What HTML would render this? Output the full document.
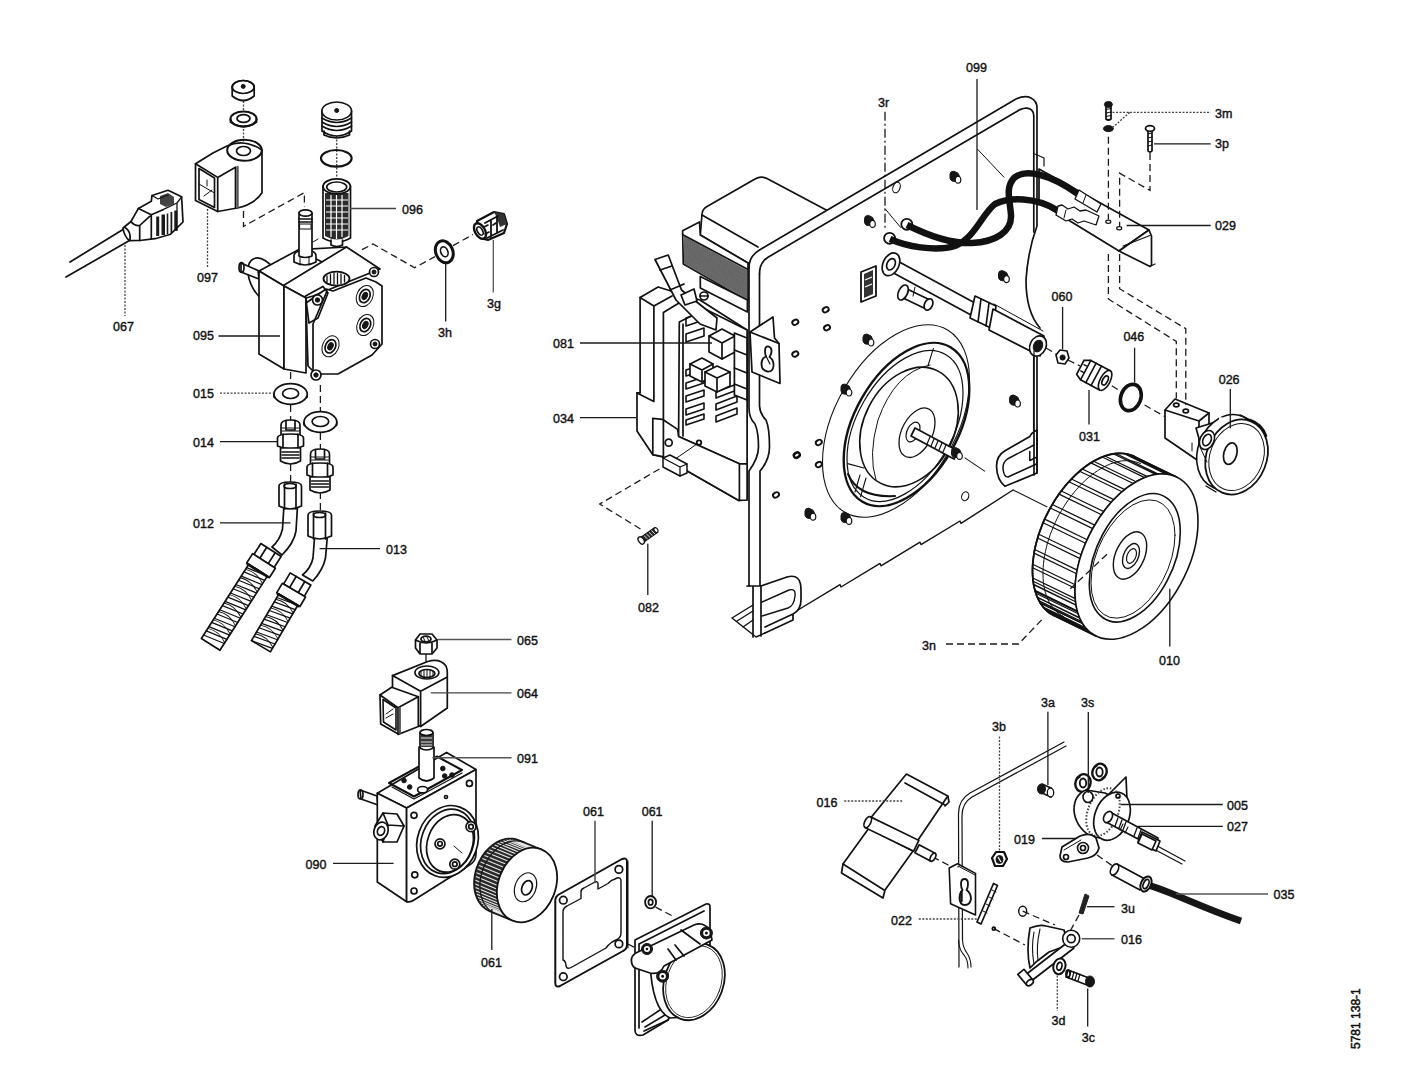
<!DOCTYPE html>
<html><head><meta charset="utf-8"><title>Parts diagram</title>
<style>
html,body{margin:0;padding:0;background:#fff;}
body{width:1410px;height:1086px;overflow:hidden;}
svg{display:block;}
.s{fill:none;stroke:#111;stroke-width:1.7;stroke-linejoin:round;stroke-linecap:round;}
.w{fill:#fff;stroke:#111;stroke-width:1.7;stroke-linejoin:round;stroke-linecap:round;}
.k{fill:#161616;stroke:#161616;stroke-width:1;}
.th{fill:none;stroke:#111;stroke-width:1.0;stroke-linecap:round;}
.l{fill:none;stroke:#1a1a1a;stroke-width:1.3;}
.d{fill:none;stroke:#1a1a1a;stroke-width:1.3;stroke-dasharray:7 4;}
.dt{fill:none;stroke:#444;stroke-width:1.3;stroke-dasharray:2 1.5;}
text{stroke:#111;stroke-width:0.4;font-family:"Liberation Sans",sans-serif;font-size:12.5px;fill:#111;}
</style></head><body>
<svg width="1410" height="1086" viewBox="0 0 1410 1086">
<rect width="1410" height="1086" fill="#fff"/>
<!-- 10_asm.svg -->
<g>
<!-- assembly dashed lines -->
<path class="d" d="M243.5,211V226.4L304.4,192.6V207"/>
<path class="dt" d="M243.5,101V145"/>
<path class="dt" d="M336.7,136V178M336.7,246V268"/>
<path class="d" d="M362,249.7L373,244L414.6,267.7L435,256.6M453,245.6L473,234.5"/>
<path class="d" d="M290.6,372V385M290.6,405V420M290.6,464V482"/>
<path class="d" d="M320.4,385V411M320.4,433V449M320.4,492V510"/>
<path class="d" d="M535.5,891.3L553.3,901.2M571.2,911.1L614.9,937M627.8,944L640,950M655.6,907.2L674.5,917"/>
<path class="d" d="M659.4,469L599.7,504L642.8,530.4"/>


<path class="d" d="M1144.6,405L1164.7,416.5M1111.8,385.8L1120,391M1068,360L1080,366M1046,348L1058,355"/>

<path class="d" d="M932.6,856.8L950,866M1079,915L1068,935M1022.7,911.2L1055,925M993.8,928.7L1025,945M1097,855L1114,867"/>
</g>

<!-- 20_leftgroup.svg -->
<g id="cable067">
<path class="s" d="M70,262L123,229.5M66,277L129,240.8"/>
<path class="w" d="M123,228Q128,224 131,221.5L138.4,208.4L151.3,201.3L152,195.5L168,190.3L181.6,196.8L183,222L170.6,234.2L155.1,238.7L139.7,240.5L129.3,240.6Q124,236 123,228Z"/>
<path class="s" d="M138.4,208.4L151.3,214.8L163,209.7M151.3,214.8V238.7M131,221.5Q134,226 139.7,225.5L151.3,214.8M139.7,225.5V240.5M125,227.5Q131,231 130,240"/>
<path d="M156.2,216.5H159.2V236H156.2ZM161.5,214.5H165V235H161.5ZM166.7,213.5H168.3V234H166.7ZM170.5,212H172.3V233H170.5ZM174.3,210.5H177.3V231H174.3Z" fill="#1a1a1a"/>
<path d="M160,196L168,193L174,197L174,204L166,207L160,204Z" fill="#444"/>
<path class="s" d="M152,195.5L158,199L168,195M163,209.7L177,203L181.6,196.8M177,203V230" style="stroke-width:1.3"/>
</g>
<g id="coil097">
<ellipse class="w" cx="243.2" cy="87" rx="11" ry="6.5"/>
<path class="w" d="M232.2,87V96Q243.2,105 254.2,96V87"/>
<ellipse class="s" cx="243.2" cy="87" rx="11" ry="6.5"/>
<circle class="k" cx="243.2" cy="86.4" r="2"/>
<ellipse class="w" cx="243.5" cy="119" rx="13" ry="7.5" style="stroke-width:2"/>
<path class="s" d="M230.5,119V122Q243.5,131 256.5,122V119" style="stroke-width:1.8"/>
<ellipse class="s" cx="243.5" cy="118.5" rx="6.5" ry="3.8" style="stroke-width:1.8"/>
<path class="w" d="M195.5,163.8L213.4,152.8L227,146Q244,138 262,150V192.8Q255,204 237.2,208L217.7,211.5L195.5,200.4Z"/>
<path class="s" d="M195.5,163.8L217.7,177.4V211.5M217.7,177.4L235.5,167.2V208"/>
<ellipse class="s" cx="244.5" cy="150.2" rx="17.3" ry="10.5" style="stroke-width:2"/>
<ellipse class="s" cx="243.5" cy="151" rx="7" ry="4.5"/>
<path class="s" d="M199,168.5L214.5,178V207.5L199,199.5Z"/>
<path class="th" d="M199,184L214.5,193M207,180V186M204,196L212,190"/>
<path class="s" d="M237.5,167V208" style="stroke-width:2.4;stroke:#555"/>
</g>
<g id="pump095">
<!-- shaft and hub on left -->
<ellipse class="w" cx="265" cy="281" rx="14" ry="25" transform="rotate(-28 265 281)"/>
<path class="w" d="M241,263L258,270.5L259,279L241,272Z"/>
<ellipse class="s" cx="241.5" cy="267.5" rx="2.5" ry="4.8"/>
<!-- top face -->
<path class="w" d="M259,271L298.5,249.7L346.5,247L380,269L313,296L306,298L284,286Z"/>
<!-- side faces -->
<path class="s" d="M282.6,285.9L346.4,247M298.5,249.7L322,262"/>
<path class="w" d="M259,271L284,286V369L259,354Z"/>
<path class="w" d="M284,286L306,298V373L284,369Z"/>
<!-- front plate -->
<path class="w" d="M306,303L326,289L333,291L366,278L376,282L382,286V344L372,355L338,374H316L308,366Z"/>
<path class="s" d="M313,324V374M327,291L313,324"/>
<!-- ear bolts -->
<path class="s" d="M305.5,296L323,286.5L328,293L318,318L309,323Z"/>
<circle class="w" cx="317.5" cy="300" r="5"/><circle class="k" cx="317.5" cy="300" r="2.2"/>
<circle class="w" cx="374" cy="272" r="4.5"/><circle class="k" cx="374" cy="272" r="2"/>
<circle class="w" cx="375" cy="344" r="4.5"/><circle class="k" cx="375" cy="344" r="2"/>
<circle class="w" cx="316" cy="375" r="5"/><circle class="k" cx="316" cy="375" r="2.2"/>
<!-- ports -->
<g transform="translate(364.8,296) rotate(25)"><ellipse class="s" rx="8" ry="11" style="stroke-width:1"/><ellipse class="s" rx="5" ry="7"/><ellipse class="k" rx="2.5" ry="3.8"/></g>
<g transform="translate(365.3,325) rotate(25)"><ellipse class="s" rx="8" ry="11" style="stroke-width:1"/><ellipse class="s" rx="5" ry="7"/><ellipse class="k" rx="2.5" ry="3.8"/></g>
<g transform="translate(330.5,346.3) rotate(25)"><ellipse class="s" rx="8" ry="11" style="stroke-width:1"/><ellipse class="s" rx="5" ry="7"/><ellipse class="k" rx="2.5" ry="3.8"/></g>
<!-- top port -->
<ellipse class="w" cx="336.5" cy="278.7" rx="13" ry="7" style="stroke-width:1.8"/>
<path class="th" d="M327,276V282M330.5,274.5V283.5M334,273.5V284M337.5,273.5V284M341,274V283.5M344.5,275.5V282" style="stroke-width:1.3"/>
<!-- solenoid stem -->
<path class="w" d="M294,256Q294,252 300,251H311Q316,252 316,256V262Q305,268 294,262Z"/>
<path class="th" d="M300,252V265M309,252V265"/>
<path class="w" d="M299,213V256Q305,259 312,256V213Z"/>
<ellipse class="w" cx="305.5" cy="213" rx="6.5" ry="3.2"/>
<path class="s" d="M299,219H312M299,222H312"/>
<path class="s" d="M300,224H311V229H300Z" style="stroke-width:1"/>
<path class="th" d="M313,242L318,239"/>
</g>

<!-- 21_leftgroup2.svg -->
<g id="filter096">
<path class="w" d="M322,111V131Q336.7,141 351.5,131V111"/>
<ellipse class="w" cx="336.7" cy="111" rx="14.8" ry="9"/>
<path class="s" d="M322,118Q336.7,127 351.5,118M322,122Q336.7,131 351.5,122M322,126Q336.7,135 351.5,126"/>
<path class="s" d="M324,131V135Q336.7,141 349.5,135V131"/>
<circle class="k" cx="336.7" cy="110.5" r="2"/>
<ellipse class="s" cx="336.3" cy="158.3" rx="15.3" ry="8.3" style="stroke-width:2.2"/>
<path class="w" d="M323,186V238Q336.7,246 350.5,238V186"/>
<path fill="#2b2b2b" d="M325,193H348.5V236Q336.7,243 325,236Z"/>
<path stroke="#fff" stroke-width="1.2" fill="none" d="M331,195V237M336.5,195V239M342,195V237M326,200H348M326,206H348M326,212H348M326,218H348M326,224H348M326,230H348"/>
<ellipse class="w" cx="336.7" cy="186.4" rx="13.6" ry="7.5" style="stroke-width:1.8"/>
<ellipse class="s" cx="336.7" cy="187" rx="10" ry="5"/>
<path class="w" d="M331,240V245Q336.7,248 342.5,245V240"/>
</g>
<g id="washer3h" transform="translate(444.3,251.8) rotate(-22)">
<ellipse class="w" rx="8.5" ry="11.3" style="stroke-width:3"/>
<ellipse class="s" rx="3.5" ry="5.2" style="stroke-width:1.6"/>
</g>
<g id="fit3g">
<path class="w" d="M477,221L494,212L504,214L507,224L504,233L488,240L480,238Z" style="stroke-width:2.2"/>
<path d="M494,212L504,214L507,224L500,227L497,218Z" fill="#333"/>
<g transform="translate(480,231) rotate(-30)"><ellipse class="w" rx="5" ry="8.5" style="stroke-width:2.4"/><ellipse class="s" rx="2.5" ry="4.5" style="stroke-width:1.6"/></g>
<path class="s" d="M485,223L498,216M487,238L503,230M491,221V237M497,218V233" style="stroke-width:1.8"/>
<path class="th" d="M484,227L488,225M485,234L489,232M493,225L496,223" style="stroke-width:1.6"/>
</g>
<g id="washers015">
<path class="w" d="M274,394V397Q290.6,410 307.2,397V394"/>
<ellipse class="w" cx="290.6" cy="394" rx="16.6" ry="10.3"/>
<ellipse class="s" cx="290.6" cy="393.5" rx="8" ry="5"/>
<path class="w" d="M304,422V425Q320.4,438 336.8,425V422"/>
<ellipse class="w" cx="320.4" cy="422" rx="16.4" ry="10.3"/>
<ellipse class="s" cx="320.4" cy="421.5" rx="8.3" ry="5"/>
</g>
<g id="fit014">
<path class="w" d="M281,425Q281,420 290.5,420Q300,420 300,425V436H281Z"/>
<path class="w" d="M277.5,438Q277.5,434 290.5,434Q303.5,434 303.5,438V446Q290.5,452 277.5,446Z"/>
<path class="s" d="M283,434V449M298,434V449" />
<path class="w" d="M280.5,448H300.5V461Q290.5,467 280.5,461Z"/>
<path class="th" d="M282,452H299M282,455H299M282,458H299" style="stroke-width:1.3"/>
<path class="s" d="M286,421V430H295V421"/>
<path class="th" d="M282,428H299M282,431H299"/>
</g>
<g id="fit014b" transform="translate(29.5,29)">
<path class="w" d="M281,425Q281,420 290.5,420Q300,420 300,425V436H281Z"/>
<path class="w" d="M277.5,438Q277.5,434 290.5,434Q303.5,434 303.5,438V446Q290.5,452 277.5,446Z"/>
<path class="s" d="M283,434V449M298,434V449" />
<path class="w" d="M280.5,448H300.5V461Q290.5,467 280.5,461Z"/>
<path class="th" d="M282,452H299M282,455H299M282,458H299" style="stroke-width:1.3"/>
<path class="s" d="M286,421V430H295V421"/>
<path class="th" d="M282,428H299M282,431H299"/>
</g>
<g id="hose012">
<path class="w" d="M283.8,508L282.5,529Q280,540 272,547L282,555Q294,543 296,531L297.4,508Z"/>
<g transform="translate(271,550) rotate(32.6)">
<path class="w" d="M-12,0H12V13H-12Z"/>
<path class="s" d="M-5,0V13M5,0V13"/>
<path class="w" d="M-13.5,13H13.5V24H-13.5Z"/>
<path class="w" d="M-11,24H11V112H-11Z"/>
<path class="s" d="M-12,24.5H12" style="stroke-width:2.4"/>
<path class="th" d="M-11,28L11,24M-11,33L11,29M-11,38L11,34M-11,43L11,39M-11,48L11,44M-11,53L11,49M-11,58L11,54M-11,63L11,59M-11,68L11,64M-11,73L11,69M-11,78L11,74M-11,83L11,79M-11,88L11,84M-11,93L11,89M-11,98L11,94M-11,103L11,99M-11,108L11,104" style="stroke-width:1.2"/>
<path class="th" d="M-11,30Q0,26 11,33M-11,40Q0,36 11,43M-11,50Q0,46 11,53M-11,60Q0,56 11,63M-11,70Q0,66 11,73M-11,80Q0,76 11,83M-11,90Q0,86 11,93M-11,100Q0,96 11,103" style="stroke-width:0.9"/>
</g>
<path class="w" d="M279,486Q279,482 290,482Q301.5,482 301.5,486V506Q290,512 279,506Z"/>
<path class="s" d="M284.5,484V509M296,484V509"/>
<ellipse class="s" cx="290" cy="486" rx="6" ry="2.5"/>
</g>
<g id="hose013">
<path class="w" d="M314.5,538L313,558Q311,568 302.5,575L312.8,581Q323,570 325.5,558L327.2,538Z"/>
<g transform="translate(300.5,579) rotate(30.5)">
<path class="w" d="M-12,0H12V13H-12Z"/>
<path class="s" d="M-5,0V13M5,0V13"/>
<path class="w" d="M-13.5,13H13.5V24H-13.5Z"/>
<path class="w" d="M-11,24H11V78H-11Z"/>
<path class="s" d="M-12,24.5H12" style="stroke-width:2.4"/>
<path class="th" d="M-11,28L11,24M-11,33L11,29M-11,38L11,34M-11,43L11,39M-11,48L11,44M-11,53L11,49M-11,58L11,54M-11,63L11,59M-11,68L11,64M-11,73L11,69M-11,78L11,74" style="stroke-width:1.2"/>
<path class="th" d="M-11,30Q0,26 11,33M-11,40Q0,36 11,43M-11,50Q0,46 11,53M-11,60Q0,56 11,63M-11,70Q0,66 11,73" style="stroke-width:0.9"/>
</g>
<path class="w" d="M308,515Q308,511 319.5,511Q331.5,511 331.5,515V536Q319.5,542 308,536Z"/>
<path class="s" d="M313.5,513V539M325.5,513V539"/>
<ellipse class="s" cx="319.5" cy="515" rx="6" ry="2.5"/>
</g>

<!-- 30_midgroup.svg -->
<g id="nut065">
<path class="w" d="M415.5,640L420,634H432L437,640V648L432,654H420L415.5,648Z"/>
<path class="s" d="M415.5,640Q426,646 437,640M420,643V653M432,643V653"/>
<ellipse class="s" cx="426" cy="639" rx="5" ry="2.8" style="stroke-width:1.8"/>
<path class="th" d="M423,637L425,641M427,637L429,641"/>
</g>
<path class="l" d="M426,654V666"/>
<g id="coil064">
<path class="w" d="M392.5,675.6L427.7,661.5Q440,658 446,666Q447.3,669 447.3,672V708L420.6,726.5L392.5,712Z"/>
<path class="s" d="M392.5,675.6L420.6,691.3L447.3,677M420.6,691.3V726.5"/>
<ellipse class="s" cx="426.9" cy="672.5" rx="12" ry="6.5" style="stroke-width:1.6"/>
<ellipse class="s" cx="426.9" cy="673.5" rx="8" ry="4"/>
<path class="th" d="M421,671V676M424,670V677M427,670V677M430,670V677M433,671V676"/>
<path class="w" d="M380,695L391.7,687.3L418.3,696.7V726.5L398.7,734.3L380.7,724Z"/>
<path class="s" d="M380,695L398,707.7L418.3,696.7M398,707.7V734.3"/>
<path class="s" d="M383,699.5L396,708V730L383.5,722Z" style="stroke-width:1.6"/>
<path class="th" d="M386,714L393,709M386,718L393,714"/>
<path class="s" d="M399.8,708V733" style="stroke-width:2.2;stroke:#555"/>
</g>

<g id="pump090">
<path class="w" d="M360,790L377,796L378,805L361,799Z"/>
<ellipse class="s" cx="360.5" cy="794.5" rx="2.5" ry="4.5"/>
<path class="w" d="M377.3,793.2L446.6,752.4L476,769.6L406.6,807.9Z"/>
<path class="w" d="M377.3,793.2L406.6,807.9V901.7L377.3,882Z"/>
<path class="w" d="M406.6,807.9L476,769.6V854Q476,862 468,866L414,900Q410.7,902.5 406.6,901.7Z"/>
<path class="s" d="M389,783L437,756.5L462,770L414,796.5Z" style="stroke-width:2"/><path class="s" d="M392,787L414,799L462,773" style="stroke-width:1.2"/><circle class="k" cx="404" cy="780.5" r="2.3"/><circle class="k" cx="409.7" cy="787" r="2.3"/><ellipse class="w" cx="422.6" cy="789.7" rx="5" ry="3.2"/><circle class="k" cx="442.8" cy="768.5" r="2.3"/><circle class="k" cx="444.7" cy="776" r="2.3"/><circle class="k" cx="452" cy="775" r="2.3"/>
<circle class="s" cx="446" cy="797" r="1.5"/>
<path class="w" d="M375,826L383,813L397,814L404,826L397,842L383,842Z"/>
<path class="s" d="M383,813L388,825L404,826M388,825L383,842"/>
<g transform="translate(381,831) rotate(20)"><ellipse class="w" rx="7" ry="9"/><ellipse class="s" rx="3.5" ry="4.5"/></g>
<g transform="translate(447.5,841.4) rotate(20)"><ellipse class="w" rx="30" ry="36.5"/><ellipse class="s" rx="26" ry="33"/><ellipse class="w" rx="22.5" ry="29.5" transform="translate(3,1)"/></g>
<circle class="w" cx="471" cy="826.7" r="5"/><circle class="s" cx="471" cy="826.7" r="2.3"/>
<circle class="w" cx="440" cy="843.8" r="5"/><circle class="s" cx="440" cy="843.8" r="2.3"/>
<circle class="w" cx="454.8" cy="864.2" r="5"/><circle class="s" cx="454.8" cy="864.2" r="2.3"/>
<path class="th" d="M454,846L462,853"/>
<circle class="s" cx="414" cy="815.3" r="3"/>
<circle class="s" cx="469.4" cy="783.4" r="3"/>
<circle class="s" cx="414.8" cy="874.8" r="3"/>
<circle class="s" cx="414" cy="891" r="3"/>
</g>
<g id="pin091">
<path class="w" d="M419,747V778Q426.5,784 434,778V747Z"/>
<path class="w" d="M420,733V748Q426.5,752 433,748V733Z" fill="#444"/>
<path fill="#3a3a3a" d="M420,735H433V747H420Z"/>
<path stroke="#ddd" stroke-width="1" d="M421,738H432M421,742H432M421,745H432"/>
<ellipse class="w" cx="426.5" cy="732.5" rx="6.5" ry="3"/>
</g>
<g id="gasket061">
<path class="w" d="M558,895L622,859Q627,857 627,862V945Q627,949 623,951L560,986Q555.3,988 555.3,983V900Q555.3,897 558,895Z" style="stroke-width:2"/>
<path class="s" d="M628,861V948" style="stroke-width:1"/>
<path class="s" d="M567,906L581,898.5V892Q581,889 584,888L595,882Q598,881 598,884V889L608,883.5Q611,880 615,879L617,878Q621,877 621,881V933Q621,938 616,940L612,942Q608,945 606,948L572,967Q567,970 566,966Q566,961 563,960V912Q563,908 567,906Z" style="stroke-width:1.4"/>
<circle class="w" cx="563.3" cy="900.2" r="3.8"/>
<circle class="w" cx="618.9" cy="869.4" r="3.8"/>
<circle class="w" cx="618.9" cy="943.9" r="3.8"/>
<circle class="w" cx="563.3" cy="976.7" r="3.8"/>
</g>
<g id="washer061"><ellipse class="w" cx="650.6" cy="902.2" rx="5.5" ry="6.2" style="stroke-width:1.8"/><ellipse class="s" cx="650.6" cy="902.2" rx="2.2" ry="2.8"/></g>
<g id="cover">
<path class="w" d="M635,940L706,904Q710,903 710,907V945L668,1020L643,1035Q635,1037 635,1030Z"/>
<path class="s" d="M639,944V1028M639,944L704,911M668,1020L644,1031"/>
<path class="w" d="M650,962Q652,1010 670,1018L700,1016L700,945L668,955Z"/>
<g transform="translate(694,981.7) rotate(20)"><ellipse class="w" rx="29.5" ry="39.5" style="stroke-width:1.8"/><ellipse class="s" rx="27" ry="37" style="stroke-width:0.8"/></g>
<path class="w" d="M632,964Q629,955 640,951L694,925Q703,921 710,930L712,940L664,966Q660,975 650,973L638,969Q633,968 632,964Z"/>
<path class="s" d="M675,945L684,956M668,949L676,960M681,930L700,944"/>
<circle class="k" cx="647" cy="949" r="5.5"/><circle class="s" cx="647" cy="949" r="2.2" style="stroke:#fff"/>
<circle class="k" cx="706.4" cy="933" r="6"/><circle class="s" cx="706.4" cy="933" r="2.4" style="stroke:#fff"/>
<circle class="k" cx="662.6" cy="976.2" r="6"/><circle class="s" cx="662.6" cy="976.2" r="2.4" style="stroke:#fff"/>
<path class="s" d="M642,1022L660,1010M645,1027L665,1015" style="stroke-width:1.6"/>
</g>

<!-- 31_pulley.svg -->
<g id="pulley061">
<path fill="#2a2a2a" stroke="#161616" stroke-width="1.4" d="M489.6,911.3 L488.2,910.7 L486.9,910.0 L485.6,909.2 L484.4,908.3 L483.2,907.3 L482.1,906.3 L481.1,905.1 L480.1,903.9 L479.2,902.6 L478.3,901.2 L477.5,899.7 L476.8,898.2 L476.2,896.6 L475.6,895.0 L475.1,893.3 L474.7,891.6 L474.4,889.8 L474.1,887.9 L474.0,886.1 L473.9,884.2 L473.9,882.3 L474.0,880.4 L474.2,878.4 L474.4,876.5 L474.7,874.5 L475.2,872.6 L475.6,870.6 L476.2,868.7 L476.9,866.8 L477.6,864.9 L478.4,863.1 L479.2,861.3 L480.2,859.5 L481.2,857.7 L482.2,856.0 L483.3,854.4 L484.5,852.8 L485.7,851.3 L487.0,849.9 L488.3,848.5 L489.7,847.2 L491.1,846.0 L492.5,844.8 L494.0,843.8 L495.5,842.8 L497.0,841.9 L498.6,841.1 L500.1,840.4 L501.7,839.8 L503.3,839.3 L504.9,838.9 L506.4,838.6 L508.0,838.4 L509.6,838.4 L511.1,838.4 L512.6,838.5 L514.1,838.7 L515.6,839.0 L517.0,839.4 L518.4,839.9 L541.4,849.3 L540.0,848.8 L538.6,848.4 L537.1,848.1 L535.6,847.9 L534.1,847.8 L532.6,847.8 L531.0,847.8 L529.4,848.0 L527.9,848.3 L526.3,848.7 L524.7,849.2 L523.1,849.8 L521.6,850.5 L520.0,851.3 L518.5,852.2 L517.0,853.2 L515.5,854.2 L514.1,855.4 L512.7,856.6 L511.3,857.9 L510.0,859.3 L508.7,860.7 L507.5,862.2 L506.3,863.8 L505.2,865.4 L504.2,867.1 L503.2,868.9 L502.2,870.7 L501.4,872.5 L500.6,874.3 L499.9,876.2 L499.2,878.1 L498.6,880.0 L498.2,882.0 L497.7,883.9 L497.4,885.9 L497.2,887.8 L497.0,889.8 L496.9,891.7 L496.9,893.6 L497.0,895.5 L497.1,897.3 L497.4,899.2 L497.7,901.0 L498.1,902.7 L498.6,904.4 L499.2,906.0 L499.8,907.6 L500.5,909.1 L501.3,910.6 L502.2,912.0 L503.1,913.3 L504.1,914.5 L505.1,915.7 L506.2,916.7 L507.4,917.7 L508.6,918.6 L509.9,919.4 L511.2,920.1 L512.6,920.7Z"/>
<path stroke="#e8e8e8" stroke-width="1.1" fill="none" d="M487.6,908.7L510.6,918.1M485.2,907.1L508.2,916.5M483.1,905.1L506.1,914.5M481.2,902.8L504.2,912.2M479.5,900.3L502.5,909.7M478.1,897.4L501.1,906.8M476.9,894.3L499.9,903.7M476.1,891.0L499.1,900.4M475.6,887.6L498.6,897.0M475.4,884.0L498.4,893.4M475.5,880.3L498.5,889.7M475.9,876.6L498.9,886.0M476.6,872.8L499.6,882.2M477.7,869.1L500.7,878.5M479.0,865.5L502.0,874.9M480.6,862.0L503.6,871.4M482.4,858.6L505.4,868.0M484.5,855.4L507.5,864.8M486.8,852.4L509.8,861.8M489.3,849.7L512.3,859.1M491.9,847.3L514.9,856.7M494.7,845.1L517.7,854.5M497.5,843.3L520.5,852.7M500.5,841.9L523.5,851.3M503.5,840.8L526.5,850.2M506.5,840.1L529.5,849.5M509.4,839.8L532.4,849.2M512.4,839.9L535.4,849.3M515.2,840.4L538.2,849.8"/>
<path stroke="#161616" stroke-width="1.3" fill="none" d="M495.6,913.8 L494.2,913.2 L492.9,912.5 L491.6,911.7 L490.4,910.8 L489.2,909.8 L488.1,908.8 L487.1,907.6 L486.1,906.4 L485.2,905.1 L484.3,903.7 L483.5,902.2 L482.8,900.7 L482.2,899.1 L481.6,897.5 L481.1,895.8 L480.7,894.1 L480.4,892.3 L480.1,890.4 L480.0,888.6 L479.9,886.7 L479.9,884.8 L480.0,882.9 L480.2,880.9 L480.4,879.0 L480.7,877.0 L481.2,875.1 L481.6,873.1 L482.2,871.2 L482.9,869.3 L483.6,867.4 L484.4,865.6 L485.2,863.8 L486.2,862.0 L487.2,860.2 L488.2,858.5 L489.3,856.9 L490.5,855.3 L491.7,853.8 L493.0,852.4 L494.3,851.0 L495.7,849.7 L497.1,848.5 L498.5,847.3 L500.0,846.3 L501.5,845.3 L503.0,844.4 L504.6,843.6 L506.1,842.9 L507.7,842.3 L509.3,841.8 L510.9,841.4 L512.4,841.1 L514.0,840.9 L515.6,840.9 L517.1,840.9 L518.6,841.0 L520.1,841.2 L521.6,841.5 L523.0,841.9 L524.4,842.4"/>
<ellipse class="w" cx="527" cy="885" rx="28.5" ry="38.5" transform="rotate(22 527 885)" style="stroke-width:1.8"/>
<ellipse class="s" cx="525.5" cy="887.3" rx="10.5" ry="15" transform="rotate(22 525.5 887.3)" style="stroke-width:1.1"/>
<ellipse class="s" cx="527" cy="887.8" rx="5" ry="7.5" transform="rotate(22 527 887.8)"/>
</g>
<!-- 40_plate.svg -->
<g id="motor">
<path class="w" d="M700.3,235.1L702,214Q702.5,209 707,206.5L755,179Q761,175.5 767,178.5L830,212V262L748,263Z"/>
<path class="s" d="M702,215L758,247"/>
<path class="w" d="M682.6,230.7L699.5,221.9L700.3,235.1L748,263V301L683.3,264Z"/>
<path d="M684,236L747,270V300L684,263Z" fill="#9a9a9a"/>
<path stroke="#333" stroke-width="0.5" fill="none" d="M684,237.0L747,271.0M684,237.9L747,271.9M684,238.9L747,272.9M684,239.8L747,273.9M684,240.8L747,274.8M684,241.8L747,275.8M684,242.7L747,276.7M684,243.7L747,277.6M684,244.6L747,278.6M684,245.6L747,279.6M684,246.5L747,280.5M684,247.4L747,281.4M684,248.4L747,282.4M684,249.3L747,283.4M684,250.3L747,284.3M684,251.2L747,285.2M684,252.2L747,286.2M684,253.2L747,287.1M684,254.1L747,288.1M684,255.1L747,289.1M684,256.0L747,290.0M684,256.9L747,290.9M684,257.9L747,291.9M684,258.9L747,292.9M684,259.8L747,293.8M684,260.8L747,294.8M684,261.7L747,295.7M684,262.6L747,296.6M684,263.6L747,297.6M684,264.6L747,298.6"/>
<path class="s" d="M683.3,235L748,269.5"/>
<path class="w" d="M700.3,276.4L747.4,300V312L700.3,288Z"/>
<circle class="w" cx="704" cy="296" r="4"/><path class="s" d="M700,296H708"/>
</g>
<g id="housing">
<path class="w" d="M640.1,297.5L658.1,287L700,300L747,330V500L738.4,500.3L662.4,456.7L652.8,454.7L637,431V392.9L640.1,392.9Z"/>
<path class="s" d="M640.1,297.5L653.9,306V401.4M653.9,306L672,296M637,392.9L653.9,401.4M663.4,312.4V456.4M663.4,312.4L679,303"/>
<path class="w" d="M679.3,322L705,309L747.1,330V463.8H739.4L678.6,436.5Z"/>
<path class="s" d="M683,324V436"/>
<path class="s" d="M686,318L704,312V320L686,326Z" style="stroke-width:1.6"/>
<path class="s" d="M686,334L704,328V336L686,342Z" style="stroke-width:1.6"/>
<path class="s" d="M686,370L704,364V370L686,376Z" style="stroke-width:1.6"/>
<path class="s" d="M686,383L704,377V383L686,389Z" style="stroke-width:1.6"/>
<path class="s" d="M686,396L704,390V396L686,402Z" style="stroke-width:1.6"/>
<path class="s" d="M686,409L704,403V409L686,415Z" style="stroke-width:1.6"/>
<path class="s" d="M686,420L704,414V419L686,425Z" style="stroke-width:1.6"/>
<path class="s" d="M716,392L737,384V390L716,398Z" style="stroke-width:1.6"/>
<path class="s" d="M716,404L737,396V402L716,410Z" style="stroke-width:1.6"/>
<path class="s" d="M716,416L737,408V414L716,422Z" style="stroke-width:1.6"/>
<path class="w" d="M709,336L722,329L735,336V352L722,359L709,352Z"/><path class="s" d="M709,336L722,343L735,336M722,343V359"/>
<path class="w" d="M690,364L702,358L713,364V376L702,382L690,376Z"/><path class="s" d="M690,364L702,370L713,364M702,370V382"/>
<path class="w" d="M705,372L717,366L730,372V386L717,392L705,386Z"/><path class="s" d="M705,372L717,378L730,372M717,378V392"/>
<path class="w" d="M734.4,333L747,338V400L734.4,395Z"/><path class="s" d="M734.4,350L747,355M734.4,368L747,373M734.4,384L747,389"/>
<path class="w" d="M652.8,418.3L662.4,419.3L677.6,429.4L678.6,436.5L739.4,463.8H747.1V500L738.4,500.3L662.4,456.7L652.8,454.7Z"/>
<path class="s" d="M739.4,463.8V500.3"/>
<circle class="s" cx="699" cy="442.6" r="2.3" style="stroke-width:1.8"/>
<path class="s" d="M672.6,460.8L697,444" style="stroke-width:1"/>
<path class="s" d="M663.4,420V456.4"/>
<path class="w" d="M663,458L670,455L687,464L687,473L680,476L663,467Z" style="stroke-width:1.5"/>
<path class="s" d="M663,458L680,467L687,464M680,467V476" style="stroke-width:1.3"/>
<circle class="s" cx="668.7" cy="442.7" r="3.5"/>
<path class="w" d="M655,259.5L668.2,255L681.5,290L717,318L716,330L700,324L676,300Z"/>
<path class="s" d="M660,270L672,266M670,290L684,284"/>
<path class="w" d="M681,295L694,289L697,301L685,305Z"/>
</g>
<g id="plate">
<path fill="#fff" stroke="none" d="M749,268Q749,256 759.5,250L1016,99Q1025,95 1031,98Q1037,101 1037,108V236Q1028,256 1027,285Q1027,308 1037,320V432L1005,451Q995,458 997,470Q999,482 1008,484L1037,472L793,613L760,588V471Q760,462 755,454L749,445Z"/>
<path class="s" d="M749,268Q749,256 759.5,250L1016,99Q1025,95 1031,98Q1037,101 1037,108V226Q1028,250 1026,280Q1026,312 1040,328M1037,345V433"/>
<path class="s" d="M759.5,274Q759.5,262 768.4,257L1020,109.6Q1026,107 1030,109Q1033.8,111 1033.8,116V232M1033.8,345V431"/>
<path class="s" d="M749,268V408Q749,418 755,424Q758.5,432 758.5,447Q758.5,458 749,471V586"/>
<path class="s" d="M759.5,274V406Q760,414 766,420Q769.5,428 769.5,447Q769.5,460 760,471V586"/>
<path class="s" d="M793,613L840,584.6L841,587L880,563.4L881,565.8L920,542.2L921,544.6L960,521L961,523.4L1013,490" style="stroke-width:1.4"/>
<path class="w" d="M1037,430Q1031,433 1029.8,436.6L1005,450.7Q996,456 996.6,467Q997,480 1005,486.3L1037,473Z"/>
<path class="s" d="M1034,445L1007.4,459Q1002,463 1003.2,470Q1004,477 1008,477L1036.4,464M1029.8,451.5V460.5L1036,457.5" style="stroke-width:1.5"/>
<path class="s" d="M1034,433V475M1037,430V473" />
<path class="w" d="M753,586H761L787,577Q801,573 801,590V600Q801,610 793,614V620L765,633L756,637L732,618L753,605Z" style="stroke:none"/>
<path class="s" d="M761,586L787,577Q801,573 801,590V600Q801,610 793,614L765,627M793,614V620L765,633"/>
<path class="s" d="M762,602L789,590Q796,588 795,596Q794,606 788,608L762,616" style="stroke-width:1.4"/>
<path class="s" d="M753,586V637M761,586V636M747,586H761"/>
<path class="s" d="M732,618L753,605M732,618L756,637L765,633M737,621L753,611M743,627L753,620" style="stroke-width:1.4"/>
<path class="s" d="M977.5,149.2L1004,177.2M885,208.7L900.6,227.4" style="stroke-width:1"/>
<path class="s" d="M1034.8,154L1044,158L1044,166" style="stroke-width:1.2"/>
<ellipse class="s" cx="825.7" cy="309.7" rx="3.2" ry="2.4" transform="rotate(-30 825.7 309.7)" style="stroke-width:1.9"/>
<ellipse class="s" cx="795.3" cy="322.2" rx="3.2" ry="2.4" transform="rotate(-30 795.3 322.2)" style="stroke-width:1.9"/>
<ellipse class="s" cx="827" cy="327.7" rx="3.2" ry="2.4" transform="rotate(-30 827 327.7)" style="stroke-width:1.9"/>
<ellipse class="s" cx="795.3" cy="354" rx="3.2" ry="2.4" transform="rotate(-30 795.3 354)" style="stroke-width:1.9"/>
<ellipse class="s" cx="818.8" cy="442.4" rx="3.2" ry="2.4" transform="rotate(-30 818.8 442.4)" style="stroke-width:1.9"/>
<ellipse class="s" cx="796.6" cy="454.8" rx="3.2" ry="2.4" transform="rotate(-30 796.6 454.8)" style="stroke-width:1.9"/>
<ellipse class="s" cx="818.8" cy="464.5" rx="3.2" ry="2.4" transform="rotate(-30 818.8 464.5)" style="stroke-width:1.9"/>
<ellipse class="s" cx="776" cy="494.9" rx="3.2" ry="2.4" transform="rotate(-30 776 494.9)" style="stroke-width:1.9"/>
<ellipse class="s" cx="797" cy="455.4" rx="3.2" ry="2.4" transform="rotate(-30 797 455.4)" style="stroke-width:1.9"/>
<ellipse class="s" cx="965.2" cy="496.3" rx="3.5" ry="4.5" transform="rotate(20 965.2 496.3)" style="stroke-width:1.1"/>
<ellipse class="s" cx="896.5" cy="187.5" rx="3.5" ry="5.5" transform="rotate(20 896.5 187.5)" style="stroke-width:1.1"/>
<path class="w" d="M861,272L876,266V296L861,302Z" style="stroke-width:1.8"/>
<path d="M864,274L873,270V294L864,298Z" fill="#333"/>
<path stroke="#fff" stroke-width="1.2" d="M865,280L872,277M865,287L872,284"/>
</g>
<path class="w" d="M750,332L773,317L774.5,338L779,343.5L780,383.5L752,372Z"/>
<path class="s" d="M750,332L779,343.5"/>
<path class="w" d="M765,351Q765,346 768.5,346.5Q772,347.5 771.5,352Q771,355 769.5,357Q774,360 773.5,366Q773,372 767.5,371.5Q761.5,370.5 761.5,364Q761.5,358.5 766,356.5Q765,354 765,351Z" style="stroke-width:1.8"/>
<path class="th" d="M766,356L770,364" style="stroke-width:1.2"/>
<g id="fanhousing">
<circle class="s" r="1" transform="matrix(73.50,-41.60,0,86.73,896.0,421.0)" vector-effect="non-scaling-stroke" style="stroke-width:1.1"/>
<circle class="s" r="1" transform="matrix(62.80,-35.54,0,73.48,906.5,424.5)" vector-effect="non-scaling-stroke" style="stroke-width:2.4"/>
<circle class="s" r="1" transform="matrix(58.00,-32.83,0,67.86,905.0,426.0)" vector-effect="non-scaling-stroke" style="stroke-width:1.2"/>
<ellipse class="s" cx="909" cy="427" rx="45" ry="63" transform="rotate(27 909 427)" style="stroke-width:1.6"/>
<path class="s" d="M930,365Q895,372 878,420Q868,455 876,480" style="stroke-width:1"/>
<path class="s" d="M933.4,348.4L927.9,366M847.6,463.6L864,468M860.5,496.8L866,478M855,492L860,475" style="stroke-width:1.1"/>
<path class="s" d="M848,474Q858,498 895,496" style="stroke-width:2"/>
<circle class="w" r="1" transform="matrix(18.00,-10.19,0,22.50,917.0,432.7)" vector-effect="non-scaling-stroke" style="stroke-width:1.3"/>
<circle class="w" r="1" transform="matrix(7.00,-3.96,0,9.10,913.0,432.0)" vector-effect="non-scaling-stroke" style="stroke-width:1.2"/>
<path class="w" d="M915,428L958,451L954,459L911,436Z"/>
<path class="th" d="M930,437L927,444M934,439L931,446M938,441L935,448M942,443L939,450M946,445L943,452" style="stroke-width:1.2"/>
</g>
<g transform="translate(867,340) scale(1.0)"><path class="k" d="M-4,-3Q-4,-6 0,-6L4,-4Q6,-2 5,2L2,4Q-3,5 -4,1Z"/><ellipse class="w" cx="4" cy="2.5" rx="2.8" ry="3.5" style="stroke-width:1.2"/></g>
<g transform="translate(845,390) scale(1.0)"><path class="k" d="M-4,-3Q-4,-6 0,-6L4,-4Q6,-2 5,2L2,4Q-3,5 -4,1Z"/><ellipse class="w" cx="4" cy="2.5" rx="2.8" ry="3.5" style="stroke-width:1.2"/></g>
<g transform="translate(1002.5,276.6) scale(1.0)"><path class="k" d="M-4,-3Q-4,-6 0,-6L4,-4Q6,-2 5,2L2,4Q-3,5 -4,1Z"/><ellipse class="w" cx="4" cy="2.5" rx="2.8" ry="3.5" style="stroke-width:1.2"/></g>
<g transform="translate(1013.6,401) scale(1.0)"><path class="k" d="M-4,-3Q-4,-6 0,-6L4,-4Q6,-2 5,2L2,4Q-3,5 -4,1Z"/><ellipse class="w" cx="4" cy="2.5" rx="2.8" ry="3.5" style="stroke-width:1.2"/></g>
<g transform="translate(809,514.2) scale(1.0)"><path class="k" d="M-4,-3Q-4,-6 0,-6L4,-4Q6,-2 5,2L2,4Q-3,5 -4,1Z"/><ellipse class="w" cx="4" cy="2.5" rx="2.8" ry="3.5" style="stroke-width:1.2"/></g>
<g transform="translate(845,518.4) scale(1.0)"><path class="k" d="M-4,-3Q-4,-6 0,-6L4,-4Q6,-2 5,2L2,4Q-3,5 -4,1Z"/><ellipse class="w" cx="4" cy="2.5" rx="2.8" ry="3.5" style="stroke-width:1.2"/></g>
<g transform="translate(955.5,453.4) scale(1.0)"><path class="k" d="M-4,-3Q-4,-6 0,-6L4,-4Q6,-2 5,2L2,4Q-3,5 -4,1Z"/><ellipse class="w" cx="4" cy="2.5" rx="2.8" ry="3.5" style="stroke-width:1.2"/></g>
<g transform="translate(868.5,221.4) scale(1.0)"><path class="k" d="M-4,-3Q-4,-6 0,-6L4,-4Q6,-2 5,2L2,4Q-3,5 -4,1Z"/><ellipse class="w" cx="4" cy="2.5" rx="2.8" ry="3.5" style="stroke-width:1.2"/></g>
<g transform="translate(954,177.2) scale(1.0)"><path class="k" d="M-4,-3Q-4,-6 0,-6L4,-4Q6,-2 5,2L2,4Q-3,5 -4,1Z"/><ellipse class="w" cx="4" cy="2.5" rx="2.8" ry="3.5" style="stroke-width:1.2"/></g>
<g id="br029">
<path class="w" d="M1039,169L1149,230L1119,251L1039,202Z"/>
<path class="w" d="M1119,251L1149,230L1151.5,236L1151.5,265L1150,266.5Z"/>
<path class="s" d="M1123,246L1150,235.5M1150,266.5L1155,264" style="stroke-width:1.2"/>
<ellipse class="s" cx="1108.3" cy="221.8" rx="2.5" ry="1.6" style="stroke-width:1.2"/>
<ellipse class="s" cx="1119.2" cy="228.3" rx="2.5" ry="1.6" style="stroke-width:1.2"/>
</g>
<g id="cables">
<circle class="w" cx="889.6" cy="238.3" r="5.5" style="stroke-width:1.8"/>
<circle class="w" cx="906.8" cy="224.3" r="5.5" style="stroke-width:1.8"/>
<path fill="none" stroke="#111" stroke-width="6.5" stroke-linecap="butt" d="M890,239C905,246 935,252 955,246C975,238 982,214 995,204C1010,197 1035,197 1057,210"/>
<path fill="none" stroke="#111" stroke-width="6.5" stroke-linecap="butt" d="M907,225C925,234 950,244 972,243C995,242 1012,232 1011,215C1010,200 1005,188 1014,178C1025,168 1050,174 1078,194"/>
<path class="w" d="M1058,206L1062,205L1068,209L1074,207L1080,211L1086,210L1099,216L1096,225L1084,221L1078,223L1072,219L1066,221L1056,215Z" style="stroke-width:1.3"/>
<path class="w" d="M1079,190L1101,204L1097,212L1075,199Z" style="stroke-width:1.3"/>
<path class="th" d="M1086,195L1083,203M1066,210L1064,218" style="stroke-width:1"/>
</g>
<g id="rod">
<path class="w" d="M892,258L975,303L971,315L888,270Z"/>
<g transform="translate(891,264.3) rotate(25)"><ellipse class="w" rx="8" ry="12"/><ellipse class="s" rx="4" ry="6"/></g>
<path class="w" d="M975,296L996,306L993,329L970,318Z"/>
<path class="s" d="M981,299L978,322M989,303L986,326"/>
<path class="w" d="M993,309L1044,336L1040,356L989,330Z"/>
<path class="s" d="M994,304L1043,331" style="stroke-width:1"/>
<g transform="translate(1038,346) rotate(25)"><ellipse class="w" rx="8" ry="10.5" style="stroke-width:1.6"/><ellipse class="k" rx="4.5" ry="6"/></g>
<path class="s" d="M1034,351V432" style="stroke-width:1.2"/>
<path class="w" d="M905,288L930,300L926,309L901,297Z"/>
<g transform="translate(903,292.5) rotate(25)"><ellipse class="w" rx="4.5" ry="8"/></g>
<g transform="translate(928.5,304.5) rotate(25)"><ellipse class="w" rx="4" ry="6"/></g>
<path class="s" d="M915,287L913,296" style="stroke-width:1"/>
</g>
<!-- 41_right.svg -->
<g id="s3m">
<path class="w" d="M1106,106V119Q1108.4,121 1111,119V106Z"/>
<path class="th" d="M1106,109.5L1111,108.5M1106,113L1111,112M1106,116.5L1111,115.5" style="stroke-width:1.2"/>
<ellipse class="k" cx="1108.4" cy="104.5" rx="4" ry="3"/>
<ellipse class="k" cx="1108.4" cy="128.6" rx="5" ry="3"/>
<path class="w" d="M1148,130V151Q1150,153 1152,151V130Z"/>
<path class="th" d="M1148,134L1152,133M1148,138L1152,137M1148,142L1152,141M1148,146L1152,145" style="stroke-width:1"/>
<ellipse class="w" cx="1150" cy="128.5" rx="4.5" ry="2.8" style="stroke-width:1.8"/>
</g>
<g id="n060"><path class="w" d="M1056,355L1060,350L1067,351L1069,358L1065,364L1058,363Z" style="stroke-width:1.6"/><circle class="k" cx="1062.6" cy="357.5" r="2.6"/></g>
<g id="p031" transform="translate(1094.5,374.8) rotate(28)">
<path class="w" d="M-16,-8L-10,-11H12V11H-10L-16,8Z"/>
<path class="s" d="M-10,-11V11M-4,-11V11M2,-11V11" style="stroke-width:1.6"/>
<ellipse class="w" cx="12" cy="0" rx="5" ry="11" style="stroke-width:1.6"/>
<ellipse class="s" cx="12" cy="0" rx="2.5" ry="5"/>
<path class="th" d="M-14,-4H-11M-14,3H-11" style="stroke-width:1.4"/>
</g>
<g transform="translate(1130.8,397.5) rotate(20)"><ellipse fill="none" stroke="#111" stroke-width="3.6" rx="10" ry="13.5"/></g>
<g id="p026">
<path class="w" d="M1165,410L1175,399L1209,413V440L1215,456L1200,462L1165,438Z"/>
<path class="s" d="M1165,410L1199,421L1209,413M1199,421V445"/>
<ellipse class="s" cx="1176.3" cy="405" rx="2.7" ry="1.8"/><ellipse class="s" cx="1185.8" cy="411" rx="2.7" ry="1.8"/>
<path class="w" d="M1196,428L1222,420L1252,430L1238,490L1208,470Z"/>
<g transform="translate(1228,452) rotate(22)"><ellipse class="w" rx="30" ry="38.5" style="stroke-width:1.6"/></g>
<path class="w" d="M1219,417L1251,421L1264,492L1222,495Z" style="stroke:none"/>
<path class="s" d="M1240,415L1250,420M1206,486L1216,492" style="stroke-width:1.4"/>
<g transform="translate(1236.6,457) rotate(22)"><ellipse class="w" rx="30" ry="38.5" style="stroke-width:1.8"/><ellipse class="s" rx="26.5" ry="34.5" style="stroke-width:1"/></g>
<path class="s" d="M1250,420Q1262,424 1266,436" style="stroke-width:2.6"/>
<g transform="translate(1230.3,453.6) rotate(15)"><ellipse class="s" rx="6.5" ry="11"/></g>
<g transform="translate(1207,440) rotate(25)"><ellipse class="w" rx="7" ry="10" style="stroke-width:1.6"/><ellipse class="s" rx="4" ry="6" style="stroke-width:1.6"/></g>
<path class="s" d="M1200,447L1207,462M1192,443V451" style="stroke-width:1"/>
</g>
<g id="wheel010">
<path class="w" d="M1053.9,615.6 L1051.5,614.3 L1049.2,612.8 L1047.1,611.1 L1045.1,609.2 L1043.2,607.0 L1041.5,604.7 L1039.9,602.2 L1038.4,599.5 L1037.1,596.7 L1036.0,593.7 L1035.0,590.5 L1034.1,587.1 L1033.5,583.7 L1033.0,580.1 L1032.7,576.3 L1032.5,572.5 L1032.5,568.6 L1032.7,564.5 L1033.1,560.4 L1033.6,556.3 L1034.2,552.0 L1035.1,547.8 L1036.1,543.5 L1037.3,539.2 L1038.6,534.8 L1040.1,530.5 L1041.7,526.2 L1043.4,521.9 L1045.3,517.7 L1047.4,513.5 L1049.5,509.3 L1051.8,505.3 L1054.2,501.3 L1056.7,497.4 L1059.3,493.6 L1062.0,490.0 L1064.8,486.4 L1067.7,483.0 L1070.7,479.8 L1073.7,476.7 L1076.7,473.8 L1079.9,471.0 L1083.0,468.4 L1086.2,466.0 L1089.4,463.8 L1092.6,461.8 L1095.8,460.0 L1099.0,458.4 L1102.2,457.0 L1105.4,455.8 L1108.6,454.9 L1111.7,454.1 L1114.7,453.6 L1117.7,453.3 L1120.7,453.3 L1123.5,453.5 L1126.3,453.9 L1129.0,454.5 L1131.6,455.3 L1134.1,456.4 L1176.6,477.0 L1174.1,475.9 L1171.5,475.1 L1168.8,474.5 L1166.0,474.1 L1163.2,473.9 L1160.2,473.9 L1157.2,474.2 L1154.2,474.7 L1151.1,475.5 L1147.9,476.4 L1144.7,477.6 L1141.5,479.0 L1138.3,480.6 L1135.1,482.4 L1131.9,484.4 L1128.7,486.6 L1125.5,489.0 L1122.4,491.6 L1119.2,494.4 L1116.2,497.3 L1113.2,500.4 L1110.2,503.6 L1107.3,507.0 L1104.5,510.6 L1101.8,514.2 L1099.2,518.0 L1096.7,521.9 L1094.3,525.9 L1092.0,529.9 L1089.9,534.1 L1087.8,538.3 L1085.9,542.5 L1084.2,546.8 L1082.6,551.1 L1081.1,555.4 L1079.8,559.8 L1078.6,564.1 L1077.6,568.4 L1076.7,572.6 L1076.1,576.9 L1075.6,581.0 L1075.2,585.1 L1075.0,589.2 L1075.0,593.1 L1075.2,596.9 L1075.5,600.7 L1076.0,604.3 L1076.6,607.7 L1077.5,611.1 L1078.5,614.3 L1079.6,617.3 L1080.9,620.1 L1082.4,622.8 L1084.0,625.3 L1085.7,627.6 L1087.6,629.8 L1089.6,631.7 L1091.7,633.4 L1094.0,634.9 L1096.4,636.2Z"/>
<path class="s" style="stroke-width:1.2" d="M1052.9,615.1L1095.4,635.7M1046.9,610.9L1089.4,631.5M1045.2,609.2L1087.7,629.8M1040.4,603.2L1082.9,623.8M1039.1,600.9L1081.6,621.5M1035.8,593.2L1078.3,613.8M1035.0,590.4L1077.5,611.0M1033.1,581.2L1075.6,601.8M1032.8,578.0L1075.3,598.6M1032.6,567.7L1075.1,588.3M1032.7,564.2L1075.2,584.8M1034.1,553.1L1076.6,573.7M1034.7,549.5L1077.2,570.1M1037.6,538.0L1080.1,558.6M1038.8,534.2L1081.3,554.8M1043.1,522.7L1085.6,543.3M1044.7,519.1L1087.2,539.7M1050.3,508.0L1092.8,528.6M1052.3,504.5L1094.8,525.1M1059.0,494.1L1101.5,514.7M1061.3,491.0L1103.8,511.6M1068.9,481.7L1111.4,502.3M1071.4,479.0L1113.9,499.6M1079.6,471.2L1122.1,491.8M1082.3,469.0L1124.8,489.6M1090.8,462.9L1133.3,483.5M1093.6,461.2L1136.1,481.8M1102.2,457.0L1144.7,477.6M1104.9,456.0L1147.4,476.6M1113.2,453.8L1155.7,474.4M1115.8,453.5L1158.3,474.1M1123.7,453.5L1166.2,474.1M1126.0,453.8L1168.5,474.4M1133.0,455.9L1175.5,476.5"/>
<path class="s" style="stroke-width:1" d="M1063.5,616.4 L1061.2,615.2 L1059.0,613.7 L1057.0,612.1 L1055.0,610.2 L1053.2,608.2 L1051.6,606.0 L1050.0,603.6 L1048.6,601.0 L1047.4,598.2 L1046.3,595.3 L1045.3,592.3 L1044.5,589.1 L1043.9,585.8 L1043.4,582.3 L1043.1,578.7 L1043.0,575.0 L1043.0,571.3 L1043.2,567.4 L1043.5,563.5 L1044.0,559.5 L1044.6,555.4 L1045.5,551.3 L1046.4,547.2 L1047.5,543.0 L1048.8,538.9 L1050.2,534.7 L1051.8,530.6 L1053.5,526.5 L1055.3,522.4 L1057.2,518.4 L1059.3,514.4 L1061.5,510.5 L1063.8,506.7 L1066.2,503.0 L1068.7,499.3 L1071.3,495.8 L1074.0,492.4 L1076.8,489.2 L1079.6,486.0 L1082.5,483.1 L1085.4,480.2 L1088.4,477.6 L1091.4,475.1 L1094.5,472.8 L1097.6,470.7 L1100.7,468.7 L1103.8,467.0 L1106.8,465.5 L1109.9,464.1 L1113.0,463.0 L1116.0,462.1 L1119.0,461.4 L1121.9,460.9 L1124.8,460.7 L1127.6,460.6 L1130.4,460.8 L1133.0,461.2 L1135.6,461.8 L1138.1,462.6 L1140.5,463.6"/>
<path class="s" style="stroke-width:1.6" d="M1043.6,607.5L1086.1,628.1M1040.2,602.8L1082.7,623.4M1037.4,597.4L1079.9,618.0M1035.2,591.2L1077.7,611.8M1033.6,584.5L1076.1,605.1"/>
<path class="s" d="M1053.9,615.6 L1051.5,614.3 L1049.2,612.8 L1047.1,611.1 L1045.1,609.2 L1043.2,607.0 L1041.5,604.7 L1039.9,602.2 L1038.4,599.5 L1037.1,596.7 L1036.0,593.7 L1035.0,590.5 L1034.1,587.1 L1033.5,583.7 L1033.0,580.1 L1032.7,576.3 L1032.5,572.5 L1032.5,568.6 L1032.7,564.5 L1033.1,560.4 L1033.6,556.3 L1034.2,552.0 L1035.1,547.8 L1036.1,543.5 L1037.3,539.2 L1038.6,534.8 L1040.1,530.5 L1041.7,526.2 L1043.4,521.9 L1045.3,517.7 L1047.4,513.5 L1049.5,509.3 L1051.8,505.3 L1054.2,501.3 L1056.7,497.4 L1059.3,493.6 L1062.0,490.0 L1064.8,486.4 L1067.7,483.0 L1070.7,479.8 L1073.7,476.7 L1076.7,473.8 L1079.9,471.0 L1083.0,468.4 L1086.2,466.0 L1089.4,463.8 L1092.6,461.8 L1095.8,460.0 L1099.0,458.4 L1102.2,457.0 L1105.4,455.8 L1108.6,454.9 L1111.7,454.1 L1114.7,453.6 L1117.7,453.3 L1120.7,453.3 L1123.5,453.5 L1126.3,453.9 L1129.0,454.5 L1131.6,455.3 L1134.1,456.4"/>
<circle class="w" r="1" transform="matrix(61.50,-34.81,0,75.03,1136.5,556.6)" vector-effect="non-scaling-stroke" style="stroke-width:1.6"/>
<circle class="s" r="1" transform="matrix(45.50,-25.75,0,58.70,1134.8,557.8)" vector-effect="non-scaling-stroke" style="stroke-width:1.6"/>
<circle class="s" r="1" transform="matrix(42.00,-23.77,0,54.18,1133.0,559.0)" vector-effect="non-scaling-stroke" style="stroke-width:1"/>
<circle class="s" r="1" transform="matrix(16.70,-9.45,0,21.71,1130.0,555.5)" vector-effect="non-scaling-stroke" style="stroke-width:1.4"/>
<circle class="s" r="1" transform="matrix(8.50,-4.81,0,11.48,1131.0,556.0)" vector-effect="non-scaling-stroke" style="stroke-width:1.4"/>
<circle class="s" r="1" transform="matrix(5.00,-2.83,0,6.75,1131.5,556.0)" vector-effect="non-scaling-stroke" style="stroke-width:1.2"/>
</g>
<g transform="translate(648.6,535.3) rotate(-35)">
<path d="M-8,-2.8H9V2.8H-8Z" fill="#2a2a2a" stroke="#111" stroke-width="1.2"/>
<path stroke="#ddd" stroke-width="0.9" d="M-4,-2.5L-3,2.5M-1,-2.5L0,2.5M2,-2.5L3,2.5M5,-2.5L6,2.5"/>
<ellipse class="w" cx="-9" cy="0" rx="2.6" ry="4" style="stroke-width:1.4"/>
<ellipse class="w" cx="9" cy="0" rx="1.8" ry="2.6" style="stroke-width:1.2"/>
</g>
<!-- 50_brgroup.svg -->
<g id="flap016">
<path class="w" d="M869,820L906.4,774L947.8,796L916,843Z"/>
<path class="s" d="M905,783L945,805" />
<path class="s" d="M947.8,796L949,802L945,806" />
<path class="w" d="M869,828L843,864L841.5,873L883,898L885,890L913,851Z"/>
<path class="s" d="M843,864L884,890" />
<g transform="translate(892,834) rotate(26)"><path class="w" d="M-27,-6H27V6H-27Z"/><ellipse class="w" cx="-27" cy="0" rx="3" ry="6"/></g>
<g transform="translate(925,853) rotate(28)"><path class="w" d="M-9,-4.5H9V4.5H-9Z"/><ellipse class="w" cx="9" cy="0" rx="2.3" ry="4.5"/></g>
</g>
<g id="rail">
<path class="s" d="M959,967L958.5,815Q958,800 970,793L1064,742" style="stroke-width:1.2"/>
<path class="s" d="M962.5,940L962,816Q962,803 972,797L1066,746" style="stroke-width:1.2"/>
<path class="s" d="M958.5,940Q959,950 964,955Q968,960 968,968M962.5,940Q963,948 967,953Q971,959 971,967" style="stroke-width:1.1"/>
</g>
<g id="pl022">
<path class="w" d="M949.2,868L957.5,863.8L975.5,873.4V915L950.6,903.8Z" style="stroke-width:1.6"/>
<path class="s" d="M958,867V866L975,875" style="stroke-width:1"/>
<path class="w" d="M961,884Q961,879 964.5,879Q968,879 968,884Q968,888 966.5,890Q971,893 971,899Q970,905 965,905Q959.5,905 959.5,898Q959.5,893 962.5,890Q961,888 961,884Z" style="stroke-width:1.8"/>
<path class="th" d="M961.5,892V901" style="stroke-width:2.4"/>
<path class="w" d="M977,922L993.5,883.5L997.5,885.5L981,924Z"/>
<path class="th" d="M983,911L987,913M986,904L990,906M989,897L993,899M992,890L996,892" />
</g>
<g id="b3b"><path class="w" d="M992,858L996,852L1004,852L1007,859L1003,866L995,866Z" style="stroke-width:2.2"/><ellipse class="k" cx="999.5" cy="859.5" rx="3.5" ry="4"/><path stroke="#fff" stroke-width="1.2" d="M998,857L1001,862"/></g>
<g id="b3a"><path class="w" d="M1042,784L1051,788V797L1042,793Z"/><ellipse class="k" cx="1041.5" cy="789" rx="4" ry="5"/><ellipse class="w" cx="1050.5" cy="792.5" rx="3.2" ry="4.5" style="stroke-width:1.3"/></g>
<g id="n3s">
<ellipse class="w" cx="1099.5" cy="772" rx="7" ry="8.5" transform="rotate(20 1099.5 772)" style="stroke-width:2.4"/><ellipse class="s" cx="1099.5" cy="772" rx="3.2" ry="4.5" style="stroke-width:1.8"/>
<path class="th" d="M1094,768L1097,766M1102,778L1105,776" style="stroke-width:1.5"/>
<ellipse class="w" cx="1083" cy="783" rx="7.5" ry="9" transform="rotate(20 1083 783)" style="stroke-width:2.4"/><ellipse class="s" cx="1083" cy="783" rx="3.2" ry="4.5" style="stroke-width:1.8"/>
<path class="th" d="M1077,779L1080,777M1086,790L1089,788" style="stroke-width:1.5"/>
<ellipse class="w" cx="1089" cy="798" rx="4.5" ry="4" style="stroke-width:1.8"/>
</g>
<g id="m005">
<path class="w" d="M1108,795L1126,777L1127,800Z"/>
<path class="w" d="M1086,790Q1074,795 1074,810Q1075,826 1090,836L1110,840L1125,803L1105,793Z"/>
<g transform="translate(1112,816.2) rotate(22)"><ellipse class="w" rx="17" ry="25"/></g>
<g transform="translate(1103,812) rotate(22)"><ellipse fill="none" stroke="#444" stroke-width="2" stroke-dasharray="1.5 1.8" rx="15" ry="25"/></g>
<ellipse class="w" cx="1088" cy="797" rx="5" ry="5.5" style="stroke-width:1.6"/>
<circle class="s" cx="1118" cy="796" r="2"/>
</g>
<g id="sh027">
<path class="s" d="M1150,842L1185,861M1148,846L1182,864" style="stroke-width:1.2"/>
<path class="w" d="M1110,812L1158,838L1155,848L1106,822Z"/>
<path class="th" d="M1118,818L1115,826M1122,820L1119,828M1126,822L1123,830M1137,828L1134,836M1141,830L1138,838" style="stroke-width:1.3"/>
<path class="w" d="M1142,832L1160,841L1156,851L1138,842Z"/>
<g transform="translate(1108,817) rotate(30)"><ellipse class="w" rx="4" ry="6" style="stroke-width:1.6"/></g>
</g>
<path class="w" d="M1142,834L1156,841L1152,850L1138,843Z"/>
<path class="s" d="M1123,824L1120,830M1128,827L1125,833" style="stroke-width:1.1"/>
</g>
<g id="br019">
<path class="w" d="M1062,847L1080,836Q1090,832 1096,838L1099,848Q1097,856 1088,858L1068,862Q1060,862 1060,856Z"/>
<path class="s" d="M1064,850L1081,840" style="stroke-width:1"/>
<circle class="w" cx="1066" cy="857" r="2.5"/>
<circle class="w" cx="1083" cy="848" r="5.5" style="stroke-width:1.6"/><circle class="s" cx="1083" cy="848" r="2.5"/>
</g>
<g id="c035">
<path fill="none" stroke="#161616" stroke-width="7" stroke-linecap="butt" d="M1148,885C1172,892 1200,907 1241,921"/>
<path class="w" d="M1117,864L1145,879L1140,890L1112,875Z"/>
<g transform="translate(1114.5,869.5) rotate(28)"><ellipse class="w" rx="3.5" ry="6"/></g>
<g transform="translate(1146,884) rotate(25)"><ellipse class="w" rx="5" ry="8" style="stroke-width:2"/><ellipse class="s" rx="2.5" ry="5"/></g>
</g>
<g id="s3u"><path d="M1085,894L1089,896L1083,914L1079,913Z" fill="#222" stroke="#222" stroke-width="1"/></g>
<g id="lev016">
<path class="w" d="M1030,928Q1040,924 1046,926L1064,930L1068,945L1049,952L1036,962L1030,968Q1026,950 1030,928Z"/>
<path class="s" d="M1034,932Q1031,948 1034,964M1040,929Q1036,946 1038,960" style="stroke-width:1.1"/>
<path class="w" d="M1068,942L1074,948L1030,982L1024,976Z"/>
<g transform="translate(1026,978) rotate(-40)"><path class="w" d="M-4,-8H4V6H-4Z"/><ellipse class="w" cx="0" cy="6" rx="4" ry="2.5"/></g>
<circle class="w" cx="1071.2" cy="938.7" r="8.5" style="stroke-width:1.6"/>
<circle class="s" cx="1071.2" cy="938.7" r="4"/>
</g>
<g transform="translate(1059.4,966.3) rotate(15)"><ellipse class="w" rx="6" ry="8" style="stroke-width:2"/><ellipse class="s" rx="2.5" ry="4"/></g>
<g id="s3c">
<path class="w" d="M1068,970L1089,978L1087,985L1066,977Z"/>
<path class="th" d="M1071,971L1069,978M1074,972L1072,979M1077,973L1075,980M1080,974L1078,981" style="stroke-width:1.2"/>
<ellipse class="k" cx="1090" cy="981.5" rx="4.5" ry="5.5"/>
<ellipse class="s" cx="1068" cy="973.5" rx="2" ry="3.5"/>
</g>
<ellipse class="s" cx="1022.7" cy="911.2" rx="4" ry="5" style="stroke-width:1.4"/>
<circle class="s" cx="993.8" cy="928.7" r="1.5"/>

<!-- 85_leaders.svg -->
<g>
<path class="dt" d="M125,245V316"/>
<path class="dt" d="M207.5,209V267"/>
<path class="l" d="M218.5,336H280"/>
<path class="l" d="M350,208.5H396" style="stroke-width:1.6;stroke:#444"/>
<path class="l" d="M445.7,262.8V321.5"/>
<path class="l" d="M493.3,240V292.5" style="stroke:#555"/>
<path class="dt" d="M220,393.2H272.8"/>
<path class="l" d="M220,441.7H277"/>
<path class="l" d="M220,522.9H290.6"/>
<path class="l" d="M319.6,548.7H380"/>
<path class="l" d="M437.9,639.6H511.5" style="stroke-width:1.5;stroke:#555"/>
<path class="l" d="M430.8,692.8H511.5" style="stroke-width:1.3;stroke:#444"/>
<path class="l" d="M432.4,757.8H511.5" style="stroke-width:1.5;stroke:#555"/>
<path class="l" d="M333,863.4H393.6"/>
<path class="l" d="M491.8,909V950"/>
<path class="l" d="M595,820.8V883.3" style="stroke-width:1.6;stroke:#555"/>
<path class="l" d="M652.2,820.8V896.2"/>
<path class="l" d="M580,343H712"/>
<path class="l" d="M580,417.6H636"/>
<path class="l" d="M647.8,543.7V595"/>
<path class="l" d="M977,79V210"/>
<path class="d" d="M885,111.7V230" style="stroke-dasharray:9 3 2 3"/>
<path class="dt" d="M1112.5,112.4H1210.7M1129.7,112.4L1112.5,127.6"/>
<path class="l" d="M1154,143.8H1210.7"/>
<path class="l" d="M1126.6,225.5H1210.7"/>
<path class="l" d="M1062.6,306.9V349.4"/>
<path class="l" d="M1134.6,347.7V382.7"/>
<path class="l" d="M1089,390V424.4"/>
<path class="l" d="M1230.3,389V428.2"/>
<path class="l" d="M1169.8,588.8V646.4"/>
<path class="d" d="M946,644H1018.6L1042.7,618.8"/>
<path class="l" d="M1047.9,711.8V785"/>
<path class="l" d="M1088.3,712V792.8"/>
<path class="dt" d="M999.5,736.6V851.3"/>
<path class="dt" d="M844.2,801H903.6"/>
<path class="l" d="M1042,838.5H1076"/>
<path class="l" d="M1120.6,804.5H1222.8"/>
<path class="l" d="M1137.7,826.4H1222.8"/>
<path class="l" d="M1176,894H1268" style="stroke-width:1.5;stroke:#555"/>
<path class="dt" d="M918.8,919H976.8"/>
<path class="l" d="M1087,906.7H1114.5"/>
<path class="l" d="M1081.7,938.7H1114.5" style="stroke-width:1.5;stroke:#555"/>
<path class="dt" d="M1057.3,975.5V1010.9"/>
<path class="l" d="M1087.7,988.6V1026.6"/>
<path class="d" d="M1108.4,136.7V219.5M1108.4,254V299L1176.3,341.4V398.5"/>
<path class="d" d="M1150,153V190.4L1119.6,173.2V226M1119.6,254V288.7L1185.8,328.7V405"/>
<path class="d" d="M1107,554.3L1070.3,588.8"/>
<path class="l" d="M964.5,457.6L985,471.4M1013,490L1047.3,507" style="stroke-width:1.1"/>
</g>

<!-- 90_labels.svg -->
<g>
<text x="113" y="331">067</text>
<text x="197" y="282">097</text>
<text x="193" y="340">095</text>
<text x="402" y="214">096</text>
<text x="438" y="337">3h</text>
<text x="487" y="308">3g</text>
<text x="193" y="398">015</text>
<text x="193" y="447">014</text>
<text x="193" y="527.5">012</text>
<text x="386" y="554">013</text>
<text x="517" y="645">065</text>
<text x="517" y="697.5">064</text>
<text x="517" y="762.5">091</text>
<text x="305.5" y="869">090</text>
<text x="481" y="966.7">061</text>
<text x="583" y="815.8">061</text>
<text x="641.7" y="815.8">061</text>
<text x="553" y="348">081</text>
<text x="553" y="422.6">034</text>
<text x="638" y="611.7">082</text>
<text x="966" y="72">099</text>
<text x="878" y="106.7">3r</text>
<text x="1215" y="117.5">3m</text>
<text x="1215" y="147.5">3p</text>
<text x="1215" y="230">029</text>
<text x="1051.5" y="300.8">060</text>
<text x="1123.4" y="341.4">046</text>
<text x="1079" y="440.6">031</text>
<text x="1218.7" y="383.7">026</text>
<text x="1159" y="664.8">010</text>
<text x="922" y="649.8">3n</text>
<text x="1041" y="706.6">3a</text>
<text x="1081" y="706.6">3s</text>
<text x="992" y="731">3b</text>
<text x="816.6" y="807">016</text>
<text x="1014" y="844">019</text>
<text x="1227" y="809.8">005</text>
<text x="1227" y="831">027</text>
<text x="1273.5" y="899">035</text>
<text x="891" y="924.5">022</text>
<text x="1121" y="912.5">3u</text>
<text x="1121" y="944">016</text>
<text x="1051.5" y="1025.3">3d</text>
<text x="1081.7" y="1042.4">3c</text>
<text transform="translate(1359.5,1049) rotate(-90)" x="0" y="0" style="font-size:12px;stroke-width:0.5">5781 138-1</text>
</g>

</svg>
</body></html>
